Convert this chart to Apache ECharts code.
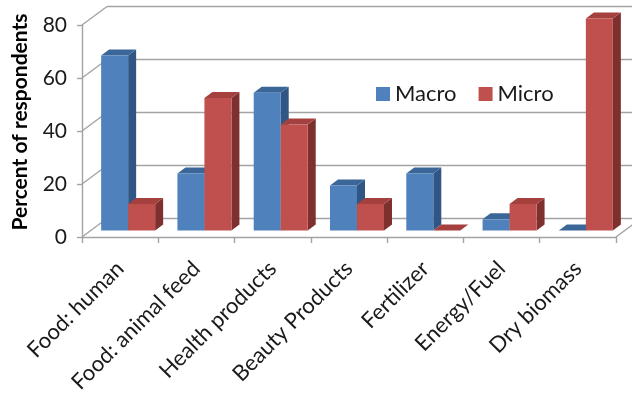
<!DOCTYPE html>
<html><head><meta charset="utf-8">
<script src="https://cdn.jsdelivr.net/npm/echarts@6/dist/echarts.min.js"></script>
<style>html,body{margin:0;padding:0;background:#fff}#c{width:632px;height:396px}</style>
</head><body><div id="c"></div>
<script>
const categories = ['Food: human','Food: animal feed','Health products','Beauty Products','Fertilizer','Energy/Fuel','Dry biomass'];
const macro = [66, 21.5, 52, 17, 21.5, 4.2, 0];
const micro = [10, 50, 40, 10, 0, 10, 80];
const yTicks = [0, 20, 40, 60, 80];
const seriesNames = ['Macro', 'Micro'];
const yTitle = 'Percent of respondents';

const FONT = 'Lato';
const GRID_COLOR = '#a3a3a3';
// 3D offsets (pixels)
const BAR_OFF = [8, -6.5];   // bar front plane relative to axis plane
const BAR_DEPTH = [8, -6];   // bar depth
const WALL_OFF = [25, -18.5];// back wall relative to axis plane
const BAR_FRAC = 0.354;

const palettes = [
  {front: '#4F81BD', side: '#2F5684', top: '#3B6698'},
  {front: '#C0504D', side: '#7E302E', top: '#A4403D'}
];

function barRenderer(si) {
  const pal = palettes[si];
  return function (params, api) {
    const i = api.value(0), v = api.value(1);
    const base = api.coord([i, 0]);
    const tp = api.coord([i, v]);
    const cw = api.size([1, 0])[0];
    const w = cw * BAR_FRAC;
    const xl = base[0] - w + si * w + BAR_OFF[0];
    const xr = xl + w;
    const yb = base[1] + BAR_OFF[1];
    const yt = tp[1] + BAR_OFF[1];
    const dx = BAR_DEPTH[0], dy = BAR_DEPTH[1];
    return {
      type: 'group',
      children: [
        {type: 'polygon', shape: {points: [[xr, yt], [xr + dx, yt + dy], [xr + dx, yb + dy], [xr, yb]]}, style: {fill: pal.side}},
        {type: 'polygon', shape: {points: [[xl, yt], [xr, yt], [xr + dx, yt + dy], [xl + dx, yt + dy]]}, style: {fill: pal.top}},
        {type: 'rect', shape: {x: xl, y: yt, width: w, height: yb - yt}, style: {fill: pal.front}}
      ]
    };
  };
}

function wallRenderer(params, api) {
  const cs = params.coordSys;
  const v = api.value(1);
  const p = api.coord([0, v]);
  const y = p[1];
  const x0 = cs.x;
  const st = {stroke: GRID_COLOR, lineWidth: 1.4, fill: null};
  const children = [
    {type: 'line', shape: {x1: x0, y1: y, x2: x0 + WALL_OFF[0], y2: y + WALL_OFF[1]}, style: st},
    {type: 'line', shape: {x1: x0 + WALL_OFF[0], y1: y + WALL_OFF[1], x2: x0 + cs.width + 200, y2: y + WALL_OFF[1]}, style: st}
  ];
  if (v === 0) {
    const xe = cs.x + cs.width;
    children.push({type: 'line', shape: {x1: xe, y1: y, x2: xe + WALL_OFF[0], y2: y + WALL_OFF[1]}, style: st});
  }
  return {type: 'group', children};
}

const chart = echarts.init(document.getElementById('c'), null, {renderer: 'canvas'});
chart.setOption({
  animation: false,
  backgroundColor: '#fff',
  textStyle: {fontFamily: FONT},
  grid: {left: 82, right: 16, top: 25, bottom: 159, containLabel: false},
  legend: {
    data: seriesNames,
    left: 371, top: 78,
    icon: 'rect', itemWidth: 14, itemHeight: 14, itemGap: 22,
    textStyle: {fontSize: 22, color: '#1a1a1a', fontFamily: FONT}
  },
  graphic: [{
    type: 'text', x: 20, y: 122, rotation: Math.PI / 2,
    style: {text: yTitle, font: 'bold 21px ' + FONT, fill: '#000', textAlign: 'center', textVerticalAlign: 'middle'}
  }],
  xAxis: {
    type: 'category', data: categories, boundaryGap: true,
    axisLine: {lineStyle: {color: GRID_COLOR, width: 1.4}},
    axisTick: {show: true, length: 6, lineStyle: {color: GRID_COLOR, width: 1.4}},
    axisLabel: {rotate: 45, fontSize: 22, color: '#1a1a1a', margin: 28, interval: 0, fontFamily: FONT},
    splitLine: {show: false}
  },
  yAxis: {
    type: 'value', min: 0, max: 80, interval: 20,
    axisLine: {show: true, lineStyle: {color: GRID_COLOR, width: 1.4}},
    axisTick: {show: true, length: 5, lineStyle: {color: GRID_COLOR, width: 1.4}},
    axisLabel: {fontSize: 21, color: '#1a1a1a', margin: 15, fontFamily: FONT},
    splitLine: {show: false}
  },
  series: [
    {type: 'custom', name: 'walls', renderItem: wallRenderer, data: yTicks.map(v => [0, v]), z: 1, clip: false, silent: true},
    {type: 'custom', name: seriesNames[0], renderItem: barRenderer(0), data: macro.map((v, i) => [i, v]), itemStyle: {color: palettes[0].front}, z: 2, clip: false},
    {type: 'custom', name: seriesNames[1], renderItem: barRenderer(1), data: micro.map((v, i) => [i, v]), itemStyle: {color: palettes[1].front}, z: 3, clip: false}
  ]
});
</script></body></html>
